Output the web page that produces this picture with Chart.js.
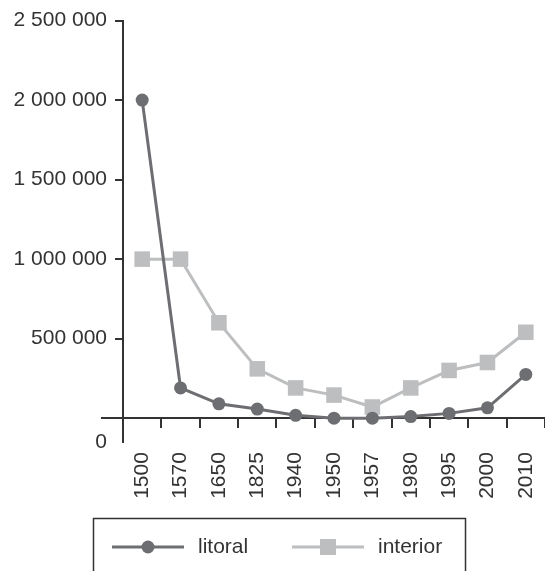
<!DOCTYPE html>
<html>
<head>
<meta charset="utf-8">
<script src="https://cdn.jsdelivr.net/npm/chart.js@4/dist/chart.umd.min.js"></script>
<style>
  html, body { margin: 0; padding: 0; background: #ffffff; }
  #wrap { width: 545px; height: 571px; position: relative; }
</style>
</head>
<body>
<div id="wrap"><canvas id="c" width="545" height="571"></canvas></div>
<script>
// ---- data ----
const categories = ['1500', '1570', '1650', '1825', '1940', '1950', '1957', '1980', '1995', '2000', '2010'];
const litoral = [2000000, 190000, 90000, 57000, 18000, 0, 0, 10000, 30000, 65000, 275000];
const interior = [1000000, 1000000, 600000, 310000, 190000, 145000, 70000, 190000, 300000, 350000, 540000];
const yTickValues = [0, 500000, 1000000, 1500000, 2000000, 2500000];
const seriesNames = ['litoral', 'interior'];

// ---- styling ----
const INK = '#333333';
const DARK = '#6d6e71';
const LIGHT = '#bcbec0';
const Y_BOTTOM = -150000; // the vertical axis runs a little below zero
const FONT = "'Liberation Sans', Arial, sans-serif";

function fmt(v) {
  return String(v).replace(/\B(?=(\d{3})+(?!\d))/g, ' ');
}

Chart.defaults.font.family = FONT;
Chart.defaults.font.size = 21;
Chart.defaults.color = INK;

const extras = {
  id: 'extras',
  afterDraw(chart) {
    const ctx = chart.ctx;
    const ys = chart.scales.y;
    const area = chart.chartArea;
    ctx.save();
    // extension of the zero line to the left of the vertical axis
    const y0 = Math.round(ys.getPixelForValue(0));
    ctx.strokeStyle = INK;
    ctx.lineWidth = 2;
    ctx.beginPath();
    ctx.moveTo(101, y0);
    ctx.lineTo(area.left, y0);
    ctx.stroke();

    // legend box
    ctx.lineWidth = 1.5;
    ctx.strokeStyle = INK;
    ctx.strokeRect(93.5, 518.5, 372, 80);
    const xs = [112, 292];
    const ly = 547;
    chart.data.datasets.forEach((ds, i) => {
      const x0 = xs[i];
      ctx.strokeStyle = ds.borderColor;
      ctx.lineWidth = 3;
      ctx.beginPath();
      ctx.moveTo(x0, ly);
      ctx.lineTo(x0 + 72, ly);
      ctx.stroke();
      ctx.fillStyle = ds.borderColor;
      const cx = x0 + 36;
      if (ds.pointStyle === 'rect') {
        ctx.fillRect(cx - 8, ly - 8, 16, 16);
      } else {
        ctx.beginPath();
        ctx.arc(cx, ly, 6.5, 0, Math.PI * 2);
        ctx.fill();
      }
      ctx.fillStyle = INK;
      ctx.font = '21px ' + FONT;
      ctx.textBaseline = 'middle';
      ctx.textAlign = 'left';
      ctx.fillText(ds.label, x0 + 86, ly);
    });
    ctx.restore();
  }
};

new Chart(document.getElementById('c'), {
  type: 'line',
  data: {
    labels: categories,
    datasets: [
      {
        label: seriesNames[0],
        data: litoral,
        borderColor: DARK,
        backgroundColor: DARK,
        borderWidth: 3,
        pointStyle: 'circle',
        pointRadius: 6.5,
        pointHoverRadius: 6.5,
        pointBorderWidth: 0,
        tension: 0,
        clip: false
      },
      {
        label: seriesNames[1],
        data: interior,
        borderColor: LIGHT,
        backgroundColor: LIGHT,
        borderWidth: 3,
        pointStyle: 'rect',
        pointRadius: 11,
        pointHoverRadius: 11,
        pointBorderWidth: 0,
        tension: 0,
        clip: false
      }
    ]
  },
  options: {
    responsive: false,
    animation: false,
    events: [],
    layout: { autoPadding: false, padding: { top: 17, bottom: 129, left: 0, right: 0 } },
    plugins: {
      legend: { display: false },
      tooltip: { enabled: false }
    },
    scales: {
      x: {
        type: 'category',
        position: { y: 0 },
        offset: true,
        grid: {
          display: true,
          drawOnChartArea: false,
          drawTicks: true,
          tickLength: 9,
          offset: true,
          color: INK,
          lineWidth: 2
        },
        border: { display: true, color: INK, width: 2 },
        ticks: {
          minRotation: 90,
          maxRotation: 90,
          autoSkip: false,
          padding: 25,
          color: INK,
          font: { size: 21 }
        },
        afterFit(scale) {
          scale.paddingLeft = 0;
          scale.paddingRight = 0;
        }
      },
      y: {
        type: 'linear',
        position: 'left',
        min: Y_BOTTOM,
        max: yTickValues[yTickValues.length - 1],
        afterBuildTicks(scale) {
          scale.ticks = yTickValues.map(v => ({ value: v === 0 ? Y_BOTTOM : v }));
        },
        afterFit(scale) {
          scale.width = 123;
        },
        grid: {
          display: true,
          drawOnChartArea: false,
          drawTicks: true,
          tickLength: 8,
          color: (c) => (c.tick && c.tick.value === Y_BOTTOM ? 'rgba(0,0,0,0)' : INK),
          lineWidth: 2
        },
        border: { display: true, color: INK, width: 2 },
        ticks: {
          padding: 8,
          color: INK,
          font: { size: 21 },
          callback: (v) => fmt(v === Y_BOTTOM ? 0 : v)
        }
      }
    }
  },
  plugins: [extras]
});
</script>
</body>
</html>
